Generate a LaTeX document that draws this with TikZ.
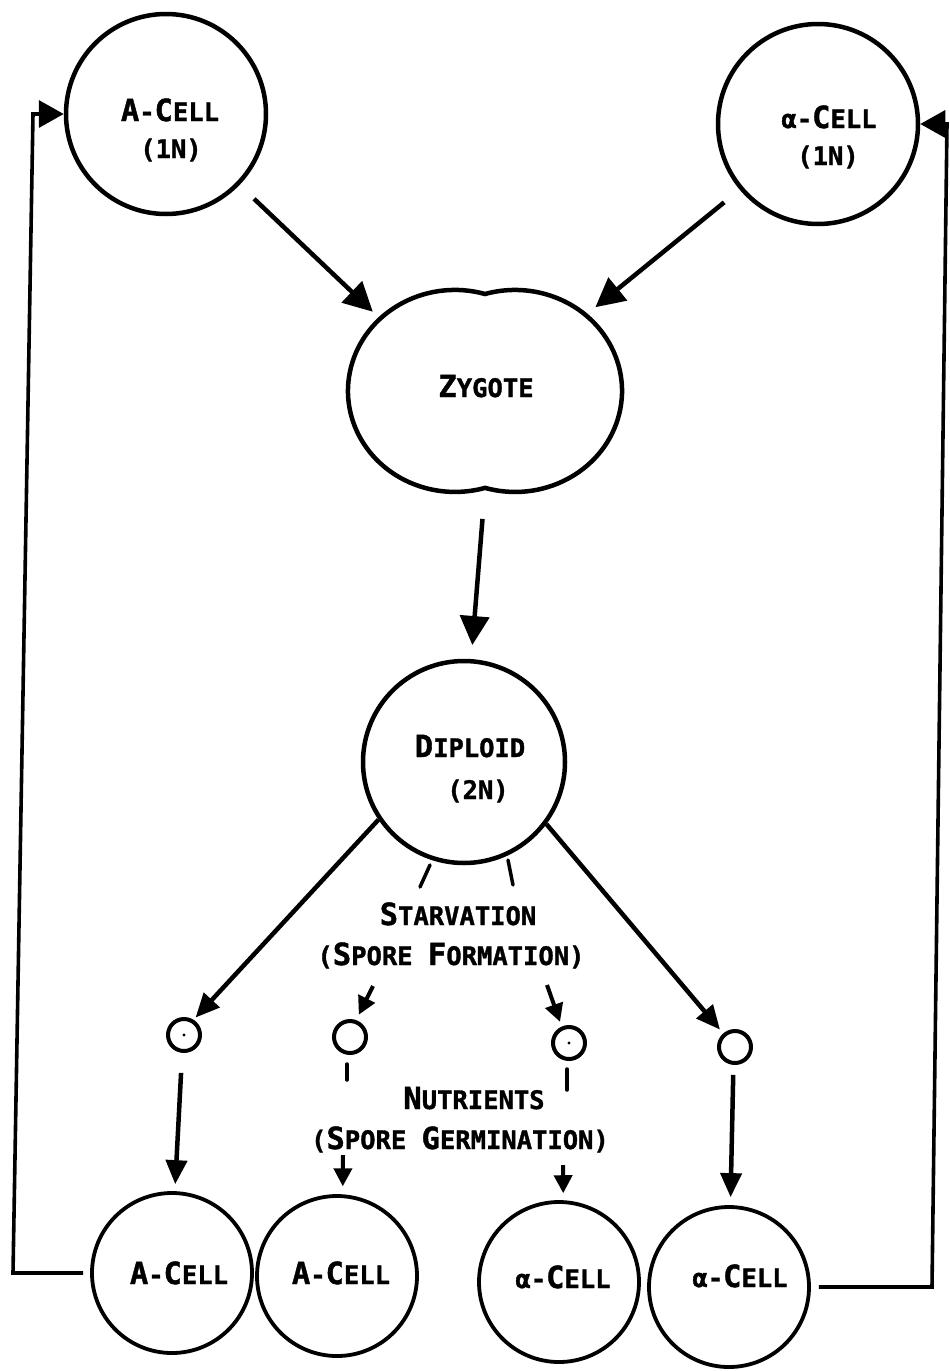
\documentclass[tikz,border=0pt]{standalone}
\usepackage{fontspec}
\newfontfamily\lett[BoldFeatures={FakeBold=1.3}]{DejaVu Sans Mono}
\usetikzlibrary{arrows.meta,calc}
\newcommand\Bg[1]{{\fontsize{30.5}{30}\selectfont #1}}
\begin{document}
\begin{tikzpicture}[x=1pt,y=-1pt,
  lbl/.style={font=\lett\bfseries\fontsize{25.5}{25}\selectfont, inner sep=0pt, anchor=base},
  cell/.style={circle, draw, line width=4.5pt, minimum size=200pt, inner sep=0pt},
  bcell/.style={circle, draw, line width=3.8pt, minimum size=160pt, inner sep=0pt},
  spore/.style={circle, draw, line width=4pt, minimum size=32pt, inner sep=0pt},
  hid/.style={circle, minimum size=208pt, inner sep=0pt},
  bigarr/.style={line width=4.5pt, -{Triangle[length=29pt,width=29pt]}},
  medarr/.style={line width=4.5pt, -{Triangle[length=24pt,width=21pt]}},
  smarr/.style={line width=4pt, -{Triangle[length=18pt,width=18pt]}},
  looparr/.style={line width=3.6pt, -{Triangle[length=25pt,width=27pt]}},
  tickmark/.style={line width=3.5pt, line cap=round}
]
\useasboundingbox (0,0) rectangle (950,1371);
% main cells
\node[cell] (acell) at (166,114) {};
\node[cell] (alcell) at (818,124) {};
\node[hid] (zl) at (455,391) {};
\node[hid] (zr) at (515,391) {};
\coordinate (zb) at (485,488);
\draw[line width=4.5pt] (485,294) arc[start angle=-73.7, end angle=-286.3, x radius=107, y radius=101]
  arc[start angle=106.3, end angle=-106.3, x radius=107, y radius=101] -- cycle;
\node[cell, minimum size=202pt] (dip) at (464,762) {};
% spores
\node[spore] (s1) at (184,1035) {};
\node[spore] (s2) at (350,1037) {};
\node[spore] (s3) at (569,1043) {};
\node[spore] (s4) at (735,1047) {};
\fill (s1) circle (1.6);
\fill (s3) circle (1.6);
% bottom cells
\node[bcell] (b1) at (172,1273) {};
\node[bcell] (b2) at (337,1276) {};
\node[bcell] (b3) at (559,1282) {};
\node[bcell] (b4) at (729,1287) {};
% labels
\node[lbl] (t1) at (170,121) {{\Bg A}-{\Bg C}ELL};
\node[lbl] (t2) at (171,158) {(1N)};
\node[lbl] (t3) at (829,128) {α-{\Bg C}ELL};
\node[lbl] (t4) at (828,165) {(1N)};
\node[lbl] (t5) at (486,397) {{\Bg Z}YGOTE};
\node[lbl] (t6) at (470,757) {{\Bg D}IPLOID};
\node[lbl] (t7) at (478,799) {(2N)};
\node[lbl] (t8) at (458,925) {{\Bg S}TARVATION};
\node[lbl] (t9) at (451,965) {({\Bg S}PORE {\Bg F}ORMATION)};
\node[lbl] (t10) at (474,1109) {{\Bg N}UTRIENTS};
\node[lbl] (t11) at (460,1149) {({\Bg S}PORE {\Bg G}ERMINATION)};
\node[lbl] (t12) at (179,1284) {{\Bg A}-{\Bg C}ELL};
\node[lbl] (t13) at (341,1284) {{\Bg A}-{\Bg C}ELL};
\node[lbl] (t14) at (563,1288) {α-{\Bg C}ELL};
\node[lbl] (t15) at (740,1287) {α-{\Bg C}ELL};
% connectors
\draw[bigarr, shorten <=20pt, shorten >=10pt] (acell.-44) -- (zl.136);
\draw[bigarr, shorten <=20pt, shorten >=12pt] (alcell.220.6) -- (zr.47.8);
\draw[bigarr, shorten <=31pt, shorten >=14pt] (zb) -- (dip.86);
\draw[medarr, shorten >=3pt] (dip.-146) -- (s1.58.6);
\draw[medarr, shorten >=5pt] (dip.-37.2) -- (s4.131.4);
\coordinate (f2) at (373,986);
\coordinate (f3) at (547,985);
\draw[smarr, shorten >=6pt] (f2) -- (s2.70);
\draw[smarr, shorten >=5pt] (f3) -- (s3.114);
\draw[medarr, shorten <=20pt, shorten >=7pt] (s1.-96) -- (b1.88);
\coordinate (f11) at (343,1155);
\coordinate (f12) at (563,1165);
\draw[smarr, shorten >=8pt] (f11) -- (b2.86);
\draw[smarr, shorten >=7pt] (f12) -- (b3.87);
\draw[medarr, shorten <=10pt, shorten >=8pt] (s4.-95) -- (b4.89);
% feedback loops
\coordinate (L1) at (13,1273);
\coordinate (L2) at (33,114);
\draw[looparr, shorten <=7pt] (b1.west) -- (L1) -- (L2) -- (acell.west);
\coordinate (R1) at (932,1287);
\coordinate (R2) at (947,124);
\draw[looparr, shorten <=8pt] (b4.east) -- (R1) -- (R2) -- (alcell.east);
% small marks
\draw[tickmark] ($(dip.center)+(-34,103)$) -- ++(-10,22);
\draw[tickmark] ($(dip.center)+(44,98)$) -- ++(5,25);
\draw[tickmark] ($(s2.center)+(-3,27)$) -- ++(0,16);
\draw[tickmark] ($(s3.center)+(-2,26)$) -- ++(0,21);
\end{tikzpicture}
\end{document}
